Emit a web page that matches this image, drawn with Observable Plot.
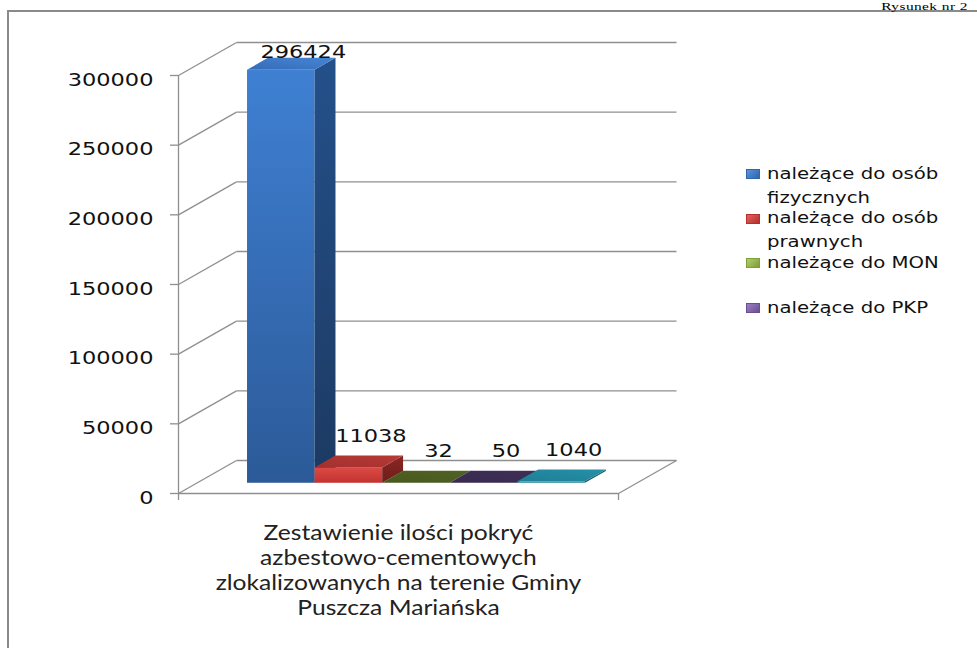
<!DOCTYPE html>
<html>
<head>
<meta charset="utf-8">
<script src="https://cdn.jsdelivr.net/npm/d3@7"></script>
<script src="https://cdn.jsdelivr.net/npm/@observablehq/plot@0.6"></script>
<style>
  html, body { margin: 0; padding: 0; background: #fff; }
  body { width: 977px; height: 648px; overflow: hidden; position: relative; }
  #frame { position: absolute; left: 7px; top: 10px; width: 970px; height: 638px;
           border-top: 2px solid #8a8a8a; border-left: 2px solid #8a8a8a; box-sizing: border-box; }
  #ref { position: absolute; right: 9px; top: 0.5px; font: 11px "Liberation Serif", serif;
         line-height: 11px; letter-spacing: 0.3px; color: #000; white-space: nowrap;
         transform: scaleX(1.4); transform-origin: right center; }
  #chart { position: absolute; left: 0; top: 0; }
  #chart svg { overflow: visible; }
  #legend { position: absolute; left: 0; top: 0; font-family: "DejaVu Sans", sans-serif; font-size: 16px;
            color: #111; }
  .item { position: absolute; left: 767px; width: 168px; line-height: 24px;
          transform: scaleX(1.23); transform-origin: left top; }
  .sw { position: absolute; left: 746px; width: 14px; height: 10px; box-sizing: border-box; }
</style>
</head>
<body>
<div id="frame"></div>
<div id="ref">Rysunek nr 2</div>
<div id="chart"></div>
<div id="legend"></div>
<script>
// ---- data ----
const categories = ["Zestawienie ilości pokryć\nazbestowo-cementowych\nzlokalizowanych na terenie Gminy\nPuszcza Mariańska"];
const series = ["należące do osób fizycznych", "należące do osób prawnych", "należące do MON", "należące do PKP", "pozostałe"];
const values = [296424, 11038, 32, 50, 1040];
const yTicks = [0, 50000, 100000, 150000, 200000, 250000, 300000];
const legendSeries = series.slice(0, 4);

// ---- styles ----
const faceColors = [
  {front: ["#3f80d3", "#2c5a98"], side: ["#24508a", "#1c3a62"], top: ["#356cb8", "#4585d4"], key: ["#5b93dc", "#2f66ad"]},
  {front: ["#dc4a45", "#c2332f"], side: ["#8a2724", "#6e1d1b"], top: ["#a3302d", "#b63a36"], key: ["#e06360", "#b52f2c"]},
  {front: ["#5a6f28", "#4c5e22"], side: ["#36451a", "#2e3b16"], top: ["#48591f", "#4f6223"], key: ["#b0cf6a", "#7f9e3a"]},
  {front: ["#4a3766", "#3f2f58"], side: ["#2b2040", "#241a36"], top: ["#382a4f", "#3f2f58"], key: ["#9a80c0", "#6a4e94"]},
  {front: ["#2a97b0", "#22859c"], side: ["#176474", "#135460"], top: ["#1f7f95", "#2590a8"], key: ["#4bb4cc", "#1f7f95"]}
];

// ---- geometry (layout) ----
const W = 977, H = 648;
const mL = 178, mR = 359, mT = 75, mB = 155;
const plotW = W - mL - mR, plotH = H - mT - mB;
const yMax = 300000;
const pxV = yMax / plotH;            // value units per pixel
const pxU = 1 / plotW;               // x units per pixel
const DXu = 58 * pxU, DYv = 33 * pxV; // depth offset of back wall
const pad = 0.116, bw = (1 - 2 * pad) / series.length;
const f0 = 0.31, f1 = 0.67;          // bar depth span

const grid = {stroke: "#8f8f8f", strokeWidth: 1.3};
const marks = [];

// back wall grid lines and left wall diagonals
marks.push(Plot.link(yTicks, {x1: DXu, x2: 1 + DXu, y1: d => d + DYv, y2: d => d + DYv, ...grid}));
marks.push(Plot.link(yTicks, {x1: 0, y1: d => d, x2: DXu, y2: d => d + DYv, ...grid}));
// floor edges and axes
marks.push(Plot.link([0], {x1: 0, x2: 1, y1: 0, y2: 0, ...grid}));
marks.push(Plot.link([0], {x1: 1, y1: 0, x2: 1 + DXu, y2: DYv, ...grid}));
marks.push(Plot.ruleX([0], {y1: 0, y2: yMax, ...grid}));
marks.push(Plot.ruleY(yTicks, {x1: -8 * pxU, x2: 0, ...grid}));
marks.push(Plot.ruleX([0, 1], {y1: -7 * pxV, y2: 0, ...grid}));

// bars
values.forEach((v, i) => {
  const u0 = pad + i * bw, u1 = u0 + bw;
  marks.push(Plot.rect([v], {x1: () => u0 + f0 * DXu, x2: () => u1 + f0 * DXu,
    y1: () => f0 * DYv, y2: d => d + f0 * DYv, fill: `url(#front${i})`}));
  marks.push(Plot.area([f0, f1], {x1: f => u1 + f * DXu, y1: f => f * DYv, y2: f => v + f * DYv,
    fill: `url(#side${i})`}));
  marks.push(Plot.areaX([f0, f1], {y: f => v + f * DYv, x1: f => u0 + f * DXu, x2: f => u1 + f * DXu,
    fill: `url(#top${i})`}));
});

// value labels
marks.push(Plot.text(values, {
  x: (d, i) => pad + (i + 0.5) * bw + f0 * DXu,
  y: d => Math.min(d + f0 * DYv + 33 * pxV, yMax + 25 * pxV),
  text: d => String(d), dx: 22, dy: 1.5, fontSize: 18, fill: "#111", ariaLabel: "value-labels"
}));

// y tick labels
marks.push(Plot.text(yTicks, {x: 0, y: d => d, text: d3.format("d"), textAnchor: "end",
  dx: -25, dy: 4.3, fontSize: 18, fill: "#111", ariaLabel: "y-tick-labels"}));

// category label
marks.push(Plot.text(categories, {x: 0.5, y: 0, text: d => d, lineAnchor: "top", dy: 29,
  fontSize: 22, lineHeight: 25 / 22, fontFamily: "Lato", fill: "#222", ariaLabel: "category-label"}));

const chart = Plot.plot({
  width: W, height: H,
  marginLeft: mL, marginRight: mR, marginTop: mT, marginBottom: mB,
  x: {domain: [0, 1], axis: null},
  y: {domain: [0, yMax], axis: null},
  style: {fontFamily: "DejaVu Sans", background: "transparent", overflow: "visible"},
  marks
});

// gradients
const defs = d3.create("svg:defs");
faceColors.forEach((c, i) => {
  [["front", c.front, [0, 0, 0, 1]], ["side", c.side, [0, 0, 0, 1]], ["top", c.top, [0, 1, 1, 0]]].forEach(([name, cols, [x1, y1, x2, y2]]) => {
    const g = defs.append("linearGradient").attr("id", name + i)
      .attr("x1", x1).attr("y1", y1).attr("x2", x2).attr("y2", y2);
    g.append("stop").attr("offset", 0).attr("stop-color", cols[0]);
    g.append("stop").attr("offset", 1).attr("stop-color", cols[1]);
  });
});
chart.insertBefore(defs.node(), chart.firstChild);
document.getElementById("chart").appendChild(chart);

// horizontal stretch of texts (the reference picture is stretched sideways)
function stretch(el, s, anchor) {
  const wrap = document.createElementNS("http://www.w3.org/2000/svg", "g");
  el.parentNode.insertBefore(wrap, el);
  wrap.appendChild(el);
  const b = wrap.getBBox();
  const ox = anchor === "end" ? b.x + b.width : anchor === "start" ? b.x : b.x + b.width / 2;
  wrap.setAttribute("transform", `translate(${ox},0) scale(${s},1) translate(${-ox},0)`);
}
const allText = Array.from(chart.querySelectorAll("text"));
const valueSet = new Set(values.map(String));
const tickSet = new Set(yTicks.map(d3.format("d")));
allText.forEach(t => {
  const s = t.textContent.trim();
  if (t.closest('g[aria-label="y-tick-labels"]') || (tickSet.has(s) && !valueSet.has(s))) stretch(t, 1.25, "end");
  else if (valueSet.has(s)) stretch(t, 1.25, "middle");
  else if (s.startsWith("Zestawienie")) stretch(t, 1.12, "middle");
});

// legend
const legend = d3.select("#legend");
const firstBaseline = 179, step = 44.7;
legendSeries.forEach((name, i) => {
  const base = firstBaseline + i * step;
  legend.append("div").attr("class", "sw")
    .style("top", (base - 10) + "px")
    .style("background", `linear-gradient(135deg, ${faceColors[i].key[0]}, ${faceColors[i].key[1]})`)
    .style("border", `1px solid ${faceColors[i].key[1]}`);
  legend.append("div").attr("class", "item")
    .style("top", (base - 17.5) + "px")
    .text(name);
});
</script>
</body>
</html>
